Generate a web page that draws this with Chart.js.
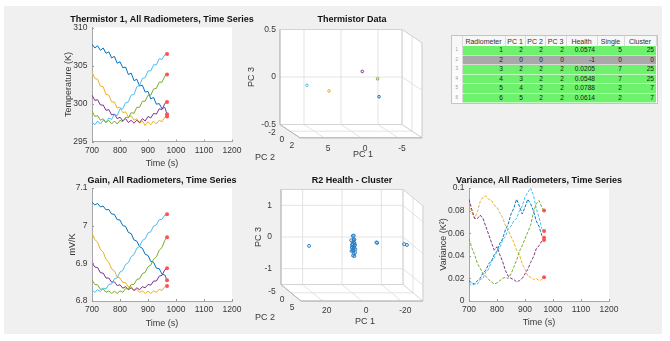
<!DOCTYPE html>
<html>
<head>
<meta charset="utf-8">
<title>Radiometer health</title>
<script src="https://cdn.jsdelivr.net/npm/chart.js@4.4.1/dist/chart.umd.min.js"></script>
<style>
  html, body { margin: 0; padding: 0; background: #fff; }
  body { position: relative; width: 670px; height: 341px; overflow: hidden; }
  #fig { position: absolute; left: 4px; top: 6px; width: 658px; height: 328px; background: #f0f0f0; }
  canvas { position: absolute; }
  #tbl { position: absolute; left: 452px; top: 36px; z-index: 2; border-collapse: collapse; table-layout: fixed; width: 204px;
         font-family: "Liberation Sans", Arial, sans-serif; font-size: 6.6px; color: #1a1a1a; background: #fff; outline: 1px solid #c4c4c4; }
  #tbl th { height: 10px; padding: 0; font-weight: normal; font-size: 7px; color: #333; background: #f7f7f7; border-right: 1px solid #dadada; text-align: center; }
  #tbl td { height: 8.5px; padding: 0 2px 0 0; text-align: right; border-bottom: 1px solid rgba(255,255,255,0.55); line-height: 8px; }
  #tbl td.rn { text-align: center; padding: 0; font-size: 4.5px; color: #9a9a9a; background: #fafafa; border-right: 1px solid #dadada; }
</style>
</head>
<body>
<div id="fig"></div>
<canvas id="c1" width="230" height="170" style="left:40px;top:10px"></canvas>
<canvas id="c4" width="230" height="170" style="left:40px;top:170px"></canvas>
<canvas id="c2" width="212" height="165" style="left:246px;top:9px"></canvas>
<canvas id="c5" width="212" height="165" style="left:246px;top:170px"></canvas>
<canvas id="c6" width="230" height="170" style="left:417px;top:170px"></canvas>
<table id="tbl"></table>
<script>
// time axis shared by the three time-series plots
const times = [700, 710, 720, 730, 740, 750, 760, 770, 780, 790, 800, 810, 820, 830, 840, 850, 860, 870, 880, 890, 900, 910, 920, 930, 940, 950, 960, 968];
const xTicks = [700, 800, 900, 1000, 1100, 1200];
const tempTicks = [295, 300, 305, 310];
const gainTicks = [6.8, 6.9, 7, 7.1];
const varTicks = [0, 0.02, 0.04, 0.06, 0.08, 0.1];

// radiometers 1,3,4,5,6 (2 is flagged)
const radioColors = ['#0072BD', '#EDB120', '#7E2F8E', '#77AC30', '#4DBEEE'];

const tempR1 = [307.8, 307.3, 307.6, 307.0, 307.3, 306.6, 306.8, 306.0, 306.2, 305.3, 305.5, 304.7, 304.8, 303.8, 304.0, 303.0, 303.2, 302.3, 302.4, 301.5, 301.6, 300.6, 300.8, 299.9, 300.0, 299.3, 299.5, 298.6];
const tempR3 = [304.1, 303.3, 303.2, 302.3, 302.2, 301.2, 301.1, 300.2, 300.2, 299.4, 299.5, 298.8, 298.9, 298.2, 298.4, 297.8, 298.0, 297.4, 297.7, 297.1, 297.6, 297.2, 297.7, 297.3, 297.8, 297.6, 298.2, 298.3];
const tempR4 = [301.1, 300.4, 300.5, 299.8, 299.8, 299.1, 299.2, 298.5, 298.6, 298.0, 298.2, 297.7, 298.0, 297.5, 297.8, 297.4, 297.8, 297.5, 298.0, 297.7, 298.3, 298.1, 298.7, 298.6, 299.3, 299.2, 300.0, 300.2];
const tempR5 = [299.0, 298.3, 298.4, 297.8, 298.0, 297.5, 297.8, 297.3, 297.7, 297.3, 297.8, 297.6, 298.2, 298.1, 298.8, 298.7, 299.5, 299.5, 300.3, 300.3, 301.1, 301.1, 301.9, 302.0, 302.8, 302.8, 303.6, 303.8];
const tempR6 = [297.6, 297.2, 297.7, 297.3, 297.8, 297.5, 298.1, 297.9, 298.6, 298.4, 299.3, 299.3, 300.1, 300.2, 301.1, 301.2, 302.2, 302.4, 303.3, 303.4, 304.3, 304.3, 305.1, 305.1, 305.9, 305.8, 306.4, 306.5];

const gainR1 = [7.062, 7.055, 7.059, 7.050, 7.052, 7.042, 7.043, 7.031, 7.030, 7.016, 7.015, 7.000, 6.998, 6.982, 6.979, 6.962, 6.959, 6.944, 6.940, 6.924, 6.921, 6.905, 6.903, 6.887, 6.886, 6.871, 6.869, 6.855];
const gainR3 = [6.980, 6.963, 6.956, 6.937, 6.930, 6.910, 6.903, 6.885, 6.880, 6.864, 6.861, 6.849, 6.849, 6.837, 6.838, 6.828, 6.831, 6.823, 6.827, 6.820, 6.826, 6.820, 6.827, 6.823, 6.831, 6.828, 6.838, 6.840];
const gainR4 = [6.902, 6.890, 6.889, 6.875, 6.874, 6.861, 6.861, 6.850, 6.851, 6.841, 6.843, 6.834, 6.838, 6.830, 6.835, 6.828, 6.835, 6.830, 6.838, 6.835, 6.844, 6.842, 6.853, 6.853, 6.866, 6.868, 6.883, 6.887];
const gainR5 = [6.856, 6.844, 6.843, 6.831, 6.832, 6.823, 6.827, 6.820, 6.826, 6.820, 6.827, 6.823, 6.833, 6.832, 6.844, 6.844, 6.857, 6.859, 6.873, 6.876, 6.891, 6.895, 6.911, 6.917, 6.935, 6.942, 6.961, 6.969];
const gainR6 = [6.829, 6.823, 6.830, 6.825, 6.834, 6.832, 6.844, 6.845, 6.859, 6.862, 6.877, 6.881, 6.897, 6.902, 6.918, 6.923, 6.940, 6.945, 6.961, 6.965, 6.981, 6.984, 6.999, 7.002, 7.016, 7.017, 7.028, 7.030];

const varR1 = [0.018, 0.016, 0.015, 0.018, 0.020, 0.025, 0.027, 0.033, 0.035, 0.041, 0.044, 0.051, 0.055, 0.063, 0.068, 0.077, 0.082, 0.090, 0.084, 0.077, 0.083, 0.090, 0.086, 0.080, 0.071, 0.066, 0.058, 0.056];
const varR3 = [0.086, 0.079, 0.073, 0.079, 0.088, 0.092, 0.093, 0.090, 0.089, 0.085, 0.083, 0.078, 0.074, 0.067, 0.063, 0.057, 0.052, 0.045, 0.041, 0.033, 0.028, 0.022, 0.021, 0.019, 0.020, 0.018, 0.019, 0.021];
const varR4 = [0.090, 0.081, 0.073, 0.073, 0.076, 0.073, 0.066, 0.059, 0.052, 0.045, 0.048, 0.041, 0.035, 0.027, 0.022, 0.020, 0.019, 0.017, 0.018, 0.020, 0.024, 0.028, 0.034, 0.039, 0.046, 0.049, 0.053, 0.054];
const varR5 = [0.055, 0.047, 0.041, 0.033, 0.029, 0.024, 0.022, 0.019, 0.017, 0.015, 0.016, 0.018, 0.020, 0.021, 0.020, 0.024, 0.030, 0.036, 0.044, 0.049, 0.055, 0.061, 0.067, 0.078, 0.086, 0.089, 0.083, 0.080];
const varR6 = [0.016, 0.014, 0.015, 0.015, 0.019, 0.020, 0.026, 0.028, 0.035, 0.038, 0.044, 0.047, 0.054, 0.057, 0.064, 0.066, 0.071, 0.073, 0.080, 0.084, 0.092, 0.096, 0.100, 0.094, 0.082, 0.074, 0.064, 0.062];

// thermistor PCA scores, one point per radiometer
const thermPC1 = [-3.45, 2.7, -0.92, -4.0, 6.1];
const thermPC2 = [0.5, -0.4, 0.9, -0.6, 0.2];
const thermPC3 = [-0.12, -0.09, 0.16, 0.03, -0.01];

// R2 health PCA scores
const r2PC1 = [21.8, -12.2, -13.1, -26.4, -27.5, -0.6, -0.9, -0.4, -1.1, -0.7, -0.3, -0.8, -1.0, -0.5, -0.6, -1.2, -0.2, -0.9, -0.7, -0.4, -1.0, -0.6, -0.8, -0.3, -0.5, -1.1, -0.7, -0.9, -0.4, -0.6];
const r2PC2 = [0.0, 0.2, -0.3, 0.1, 0.4, 0.3, -0.5, 0.8, -0.2, 0.1, -0.7, 0.5, -0.1, 0.9, -0.4, 0.2, 0.6, -0.8, 0.4, -0.3, 0.7, -0.6, 0.0, 0.3, -0.2, 0.5, -0.9, 0.1, 0.8, -0.1];
const r2PC3 = [-0.02, 0.10, 0.06, 0.04, 0.03, 0.32, 0.27, 0.22, 0.18, 0.15, 0.12, 0.09, 0.07, 0.05, 0.03, 0.01, -0.01, -0.03, -0.05, -0.07, -0.09, -0.11, -0.13, -0.15, -0.17, -0.20, -0.23, -0.26, -0.30, -0.33];

// table
const tblCols = ['', 'Radiometer', 'PC 1', 'PC 2', 'PC 3', 'Health', 'Single', 'Cluster'];
const tblRadiometer = [1, 2, 3, 4, 5, 6];
const tblPC1 = [2, 0, 2, 3, 4, 5];
const tblPC2 = [2, 0, 2, 2, 2, 2];
const tblPC3 = [2, 0, 2, 2, 2, 2];
const tblHealth = [0.0574, -1, 0.0205, 0.0548, 0.0788, 0.0614];
const tblSingle = [5, 0, 7, 7, 2, 2];
const tblCluster = [25, 0, 25, 25, 7, 7];

const FONT = '"Liberation Sans", Arial, Helvetica, sans-serif';
const TXT = '#383838';
const AXIS = '#a8a8a8';

// white axes background, small inward ticks and a title centred on the axes
const plotFrame = {
  id: 'plotFrame',
  beforeDraw(chart) {
    const a = chart.chartArea, ctx = chart.ctx;
    ctx.save();
    ctx.fillStyle = '#fff';
    ctx.fillRect(a.left, a.top, a.right - a.left, a.bottom - a.top);
    ctx.restore();
  },
  afterDraw(chart, args, opts) {
    const a = chart.chartArea, ctx = chart.ctx, sx = chart.scales.x, sy = chart.scales.y;
    ctx.save();
    ctx.strokeStyle = '#9a9a9a';
    ctx.lineWidth = 1;
    ctx.beginPath();
    sx.ticks.forEach(t => {
      const x = Math.round(sx.getPixelForValue(t.value)) + 0.5;
      ctx.moveTo(x, a.bottom); ctx.lineTo(x, a.bottom - 2);
    });
    sy.ticks.forEach(t => {
      const y = Math.round(sy.getPixelForValue(t.value)) + 0.5;
      ctx.moveTo(a.left, y); ctx.lineTo(a.left + 2, y);
    });
    ctx.stroke();
    ctx.fillStyle = '#111';
    ctx.font = 'bold 9px ' + FONT;
    ctx.textAlign = 'center';
    ctx.textBaseline = 'middle';
    ctx.fillText(opts.title, (a.left + a.right) / 2, opts.titleY);
    ctx.restore();
  }
};

function seriesChart(id, b, series, yTicks, yTitle, title, dashed) {
  const last = times.length - 1;
  const datasets = series.map((s, i) => ({
    type: 'line',
    data: times.map((t, j) => ({ x: t, y: s[j] })),
    borderColor: radioColors[i],
    borderWidth: 1,
    borderDash: dashed ? [3, 1.5] : [],
    pointRadius: 0,
    tension: 0,
    order: series.length - i
  }));
  // red marker on the latest sample
  datasets.push({
    type: 'scatter',
    data: series.map(s => ({ x: times[last], y: s[last] })),
    backgroundColor: '#ff5252',
    borderWidth: 0,
    pointRadius: 2,
    order: -1
  });
  return new Chart(document.getElementById(id), {
    type: 'line',
    data: { datasets },
    options: {
      responsive: false,
      animation: false,
      events: [],
      layout: { autoPadding: false, padding: { top: b.top, right: b.padR } },
      plugins: {
        legend: { display: false },
        tooltip: { enabled: false },
        plotFrame: { title: title, titleY: b.titleY }
      },
      scales: {
        x: {
          type: 'linear', min: xTicks[0], max: xTicks[xTicks.length - 1],
          afterBuildTicks: a => { a.ticks = xTicks.map(v => ({ value: v })); },
          afterFit: s => { s.height = b.xH; },
          grid: { display: false, drawTicks: false },
          border: { display: true, color: AXIS, width: 1 },
          ticks: { color: TXT, padding: 4, maxRotation: 0, autoSkip: false, font: { family: FONT, size: 8.5 }, callback: v => String(v) },
          title: { display: true, text: 'Time (s)', color: TXT, font: { family: FONT, size: 9, lineHeight: '11px' }, padding: { top: 0, bottom: b.xTitlePad } }
        },
        y: {
          type: 'linear', min: yTicks[0], max: yTicks[yTicks.length - 1],
          afterBuildTicks: a => { a.ticks = yTicks.map(v => ({ value: v })); },
          afterFit: s => { s.width = b.yW; },
          grid: { display: false, drawTicks: false },
          border: { display: true, color: AXIS, width: 1 },
          ticks: { color: TXT, padding: 4.5, autoSkip: false, font: { family: FONT, size: 8.5 }, callback: v => String(v) },
          title: { display: true, text: yTitle, color: TXT, font: { family: FONT, size: 9, lineHeight: '11px' }, padding: { top: b.yTitlePad, bottom: 0 } }
        }
      }
    },
    plugins: [plotFrame]
  });
}

function projector(g) {
  return (a, b, c) => ({
    x: g.cx - g.k1 * a + g.d2x * (b - g.lim2[0]),
    y: g.cy - g.k3 * c + g.d2y * (b - g.lim2[0])
  });
}

// draws the MATLAB-like 3-D box: back planes, grid, axes and their labels
function box3d(g) {
  const P = projector(g);
  return {
    id: 'box3d',
    beforeDatasetsDraw(chart) {
      const ctx = chart.ctx, sx = chart.scales.x, sy = chart.scales.y;
      const px = q => [sx.getPixelForValue(q.x), sy.getPixelForValue(q.y)];
      const seg = (p, q) => { const u = px(p), v = px(q); ctx.moveTo(u[0], u[1]); ctx.lineTo(v[0], v[1]); };
      const [a0, a1] = g.lim1, [b0, b1] = g.lim2, [c0, c1] = g.lim3;
      const poly = [P(a1, b0, c1), P(a0, b0, c1), P(a0, b1, c1), P(a0, b1, c0), P(a1, b1, c0), P(a1, b0, c0)];
      const tracePoly = () => {
        poly.forEach((q, i) => { const u = px(q); if (i) ctx.lineTo(u[0], u[1]); else ctx.moveTo(u[0], u[1]); });
        ctx.closePath();
      };
      ctx.save();
      ctx.fillStyle = '#fff';
      ctx.beginPath(); tracePoly(); ctx.fill();

      ctx.lineWidth = 1;
      ctx.strokeStyle = '#e3e3e3';
      ctx.beginPath();
      g.ticks1.forEach(t => { seg(P(t, b0, c0), P(t, b0, c1)); seg(P(t, b0, c0), P(t, b1, c0)); });
      g.ticks2.forEach(t => { seg(P(a1, t, c0), P(a0, t, c0)); seg(P(a0, t, c0), P(a0, t, c1)); });
      g.ticks3.forEach(t => { seg(P(a1, b0, t), P(a0, b0, t)); seg(P(a0, b0, t), P(a0, b1, t)); });
      ctx.stroke();

      ctx.strokeStyle = '#d4d4d4';
      ctx.beginPath();
      tracePoly();
      seg(P(a1, b0, c0), P(a0, b0, c0)); seg(P(a0, b0, c0), P(a0, b0, c1)); seg(P(a0, b0, c0), P(a0, b1, c0));
      ctx.stroke();

      ctx.strokeStyle = '#b4b4b4';
      ctx.beginPath();
      seg(P(a1, b0, c0), P(a1, b0, c1)); seg(P(a1, b0, c0), P(a1, b1, c0)); seg(P(a1, b1, c0), P(a0, b1, c0));
      ctx.stroke();

      ctx.fillStyle = TXT;
      ctx.font = '8.5px ' + FONT;
      ctx.textBaseline = 'middle';
      ctx.textAlign = 'right';
      g.ticks3.forEach(t => { const u = px(P(a1, b0, t)); ctx.fillText(String(t), u[0] - g.gap3, u[1]); });
      ctx.textAlign = 'center';
      g.ticks2.forEach(t => { const u = px(P(a1, t, c0)); ctx.fillText(String(t), u[0] + g.off2[0], u[1] + g.off2[1]); });
      g.ticks1.forEach(t => { const u = px(P(t, b1, c0)); ctx.fillText(String(t), u[0] + g.off1[0], u[1] + g.off1[1]); });
      ctx.font = '9px ' + FONT;
      let u = px(P(0, b1, c0));
      ctx.fillText('PC 1', u[0] + g.lab1[0], u[1] + g.lab1[1]);
      u = px(P(a1, b1, c0));
      ctx.fillText('PC 2', u[0] + g.lab2[0], u[1] + g.lab2[1]);
      u = px(P(a1, b0, (c0 + c1) / 2));
      ctx.translate(u[0] + g.lab3, u[1]);
      ctx.rotate(-Math.PI / 2);
      ctx.fillText('PC 3', 0, 0);
      ctx.restore();
    }
  };
}

function cloudChart(id, b, g, p1, p2, p3, colors, title) {
  const P = projector(g);
  const titleH = b.tPadT + 11;
  const pts = p1.map((v, i) => P(v, p2[i], p3[i]));
  return new Chart(document.getElementById(id), {
    type: 'scatter',
    data: {
      datasets: [{
        data: pts,
        pointRadius: g.r,
        borderWidth: 1,
        borderColor: colors,
        backgroundColor: 'rgba(0,0,0,0)'
      }]
    },
    options: {
      responsive: false,
      animation: false,
      events: [],
      layout: { autoPadding: false, padding: 0 },
      plugins: {
        legend: { display: false },
        tooltip: { enabled: false },
        title: {
          display: true, text: title, fullSize: false, color: '#111',
          font: { family: FONT, size: 9, weight: 'bold', lineHeight: '11px' },
          padding: { top: b.tPadT, bottom: 0 }
        }
      },
      scales: {
        x: { type: 'linear', display: false, min: b.left, max: b.left + b.w },
        y: { type: 'linear', display: false, reverse: true, min: b.top + titleH, max: b.top + b.h }
      }
    },
    plugins: [box3d(g)]
  });
}

seriesChart('c1', { top: 17.5, titleY: 10, yW: 52, yTitlePad: 22.8, xH: 38.5, xTitlePad: 11.2, padR: 38 },
  [tempR1, tempR3, tempR4, tempR5, tempR6], tempTicks, 'Temperature (K)', 'Thermistor 1, All Radiometers, Time Series', false);
seriesChart('c4', { top: 18, titleY: 11, yW: 52, yTitlePad: 27.2, xH: 39, xTitlePad: 11.2, padR: 38 },
  [gainR1, gainR3, gainR4, gainR5, gainR6], gainTicks, 'mV/K', 'Gain, All Radiometers, Time Series', false);
seriesChart('c6', { top: 18, titleY: 10.7, yW: 52, yTitlePad: 21.5, xH: 39, xTitlePad: 11.8, padR: 38 },
  [varR1, varR3, varR4, varR5, varR6], varTicks, 'Variance (K²)', 'Variance, All Radiometers, Time Series', true);

cloudChart('c2', { left: 246, top: 9, w: 212, h: 165, tPadT: 5.5 },
  { cx: 341, k1: 7.4, cy: 77, k3: 95, d2x: 5, d2y: 3.33, lim1: [-8.25, 8.25], lim2: [-2, 2], lim3: [-0.5, 0.5],
    ticks1: [-5, 0, 5], ticks2: [-2, 0, 2], ticks3: [-0.5, 0, 0.5], gap3: 4, off2: [-8, 8], off1: [4, 11],
    lab1: [2, 17], lab2: [-35, 20], lab3: -28, r: 1.3 },
  thermPC1, thermPC2, thermPC3, radioColors, 'Thermistor Data');
cloudChart('c5', { left: 246, top: 170, w: 212, h: 165, tPadT: 5.2 },
  { cx: 342, k1: 1.968, cy: 237, k3: 31.7, d2x: 2, d2y: 1.65, lim1: [-31, 31], lim2: [-5, 5], lim3: [-1.5, 1.5],
    ticks1: [-20, 0, 20], ticks2: [-5, 0, 5], ticks3: [-1, 0, 1], gap3: 9, off2: [-9, 7], off1: [4, 10],
    lab1: [3, 20.7], lab2: [-36, 16], lab3: -22.7, r: 1.5 },
  r2PC1, r2PC2, r2PC3, '#2a7fc4', 'R2 Health - Cluster');

// results table
const tblColW = [10, 43, 20, 20, 21, 31, 27, 32];
let html = '<colgroup>' + tblColW.map(w => `<col style="width:${w}px">`).join('') + '</colgroup>';
html += '<tr>' + tblCols.map(c => `<th>${c}</th>`).join('') + '</tr>';
tblRadiometer.forEach((r, i) => {
  const bg = tblHealth[i] < 0 ? '#a9a9a9' : '#6ef26e';
  const cells = [r, tblPC1[i], tblPC2[i], tblPC3[i], tblHealth[i], tblSingle[i], tblCluster[i]];
  html += `<tr style="background:${bg}"><td class="rn">${i + 1}</td>` + cells.map(v => `<td>${v}</td>`).join('') + '</tr>';
});
document.getElementById('tbl').innerHTML = html;
</script>
</body>
</html>
